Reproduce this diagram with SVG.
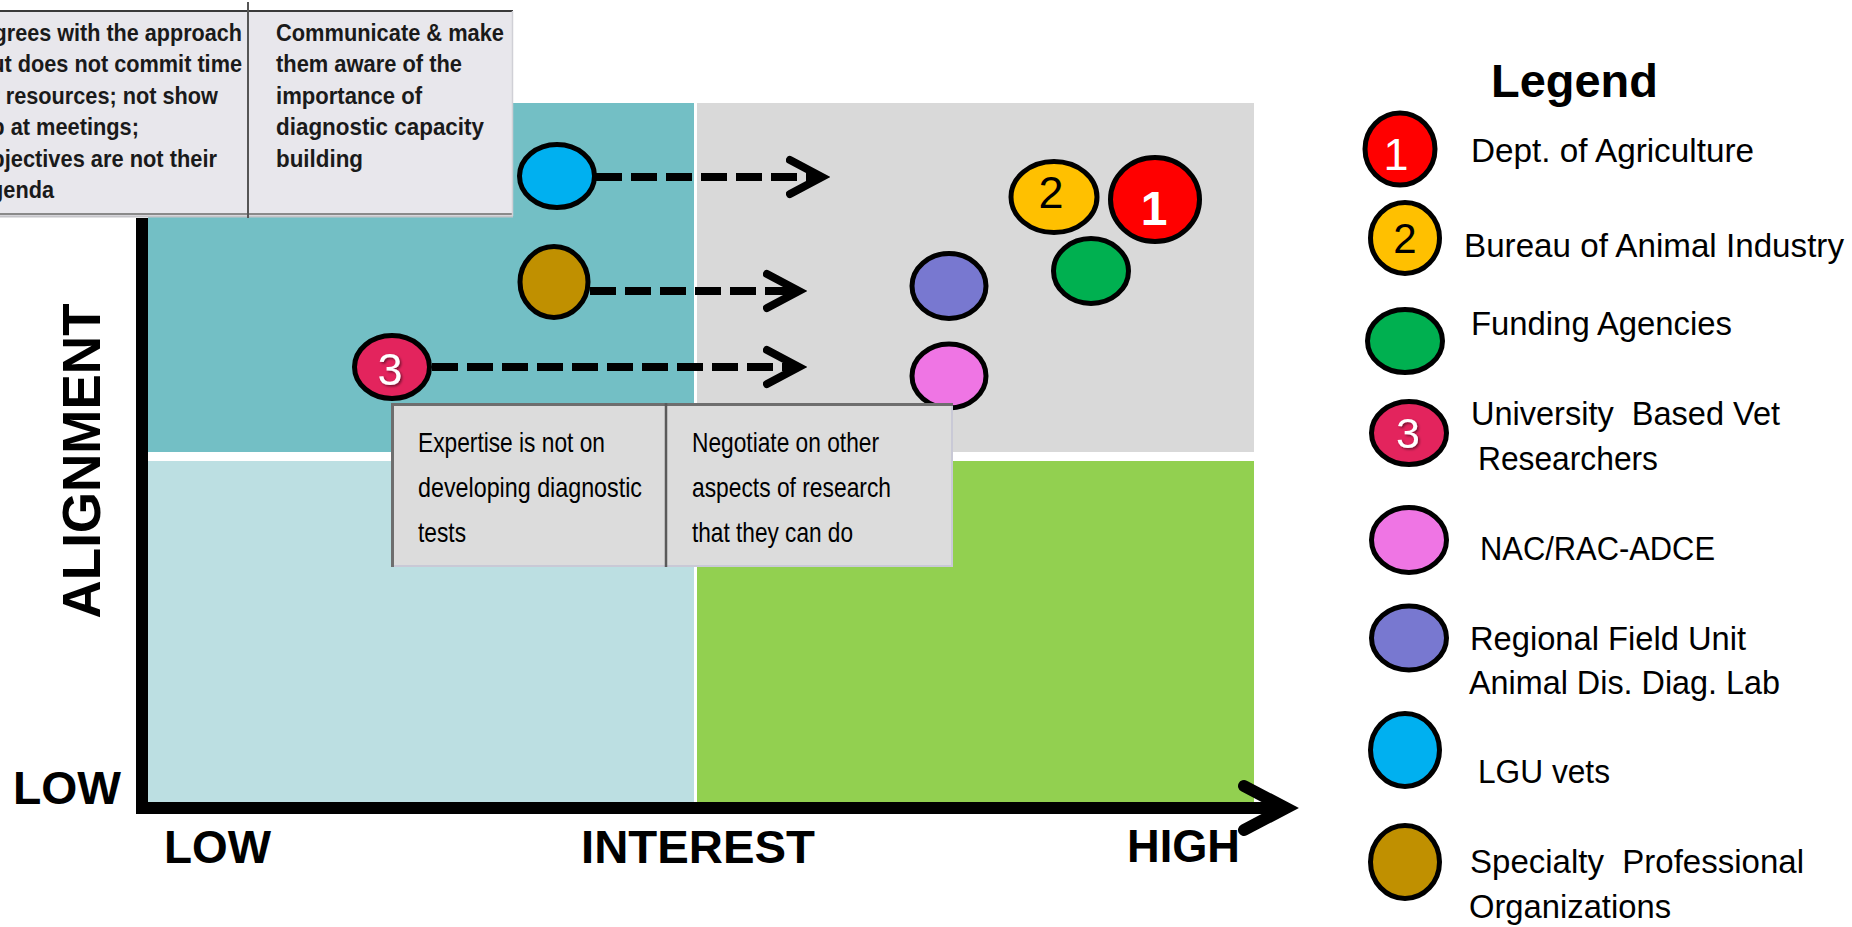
<svg xmlns="http://www.w3.org/2000/svg" width="1852" height="927" viewBox="0 0 1852 927">
<style>
.bold{font-family:"Liberation Sans",Arial,sans-serif;font-weight:bold;fill:#000}
.narrowb{font-family:"Liberation Sans Narrow","Liberation Sans",Arial,sans-serif;font-weight:bold;font-size:24px;fill:#1a1a1a}
.narrow{font-family:"Liberation Sans Narrow","Liberation Sans",Arial,sans-serif;font-size:28px;fill:#000}
.leg{font-family:"Liberation Sans Narrow","Liberation Sans",Arial,sans-serif;font-size:34px;fill:#000}
.num{font-family:"Liberation Sans",Arial,sans-serif;text-anchor:middle}
.node{stroke:#000;stroke-width:5}
.dash{fill:none;stroke:#000;stroke-width:8;stroke-dasharray:26 9}
</style>
<defs>
<marker id="chev" markerUnits="userSpaceOnUse" markerWidth="44" markerHeight="48" viewBox="0 0 44 48" refX="36" refY="24" orient="auto">
<path d="M4,7 L36,24 L4,41" fill="none" stroke="#000" stroke-width="8" stroke-linecap="round" stroke-linejoin="miter" stroke-dasharray="none"/>
</marker>
<filter id="sh" x="-30%" y="-30%" width="160%" height="160%">
<feDropShadow dx="1.5" dy="1.5" stdDeviation="1" flood-color="#000" flood-opacity="0.5"/>
</filter>
</defs>
<rect width="1852" height="927" fill="#fff"/>

<g id="quadrants">
<rect x="148" y="103" width="546" height="349" fill="#73BFC5"/>
<rect x="697" y="103" width="557" height="349" fill="#D9D9D9"/>
<rect x="148" y="461" width="546" height="342" fill="#BCDFE2"/>
<rect x="697" y="461" width="557" height="342" fill="#92D050"/>
</g>

<g id="axes">
<line x1="142" y1="218" x2="142" y2="814" stroke="#000" stroke-width="12"/>
<line x1="136" y1="808" x2="1284" y2="808" stroke="#000" stroke-width="12"/>
<path d="M1244,786 L1286,808 L1244,830" fill="none" stroke="#000" stroke-width="12" stroke-linecap="round" stroke-linejoin="miter"/>
<text class="bold" font-size="53" text-anchor="middle" transform="translate(100,461) rotate(-90)">ALIGNMENT</text>
<text class="bold" x="13" y="804" font-size="46" textLength="108" lengthAdjust="spacingAndGlyphs">LOW</text>
<text class="bold" x="164" y="863" font-size="46" textLength="107" lengthAdjust="spacingAndGlyphs">LOW</text>
<text class="bold" x="581" y="863" font-size="46" textLength="234" lengthAdjust="spacingAndGlyphs">INTEREST</text>
<text class="bold" x="1127" y="862" font-size="46" textLength="113" lengthAdjust="spacingAndGlyphs">HIGH</text>
</g>

<g id="connectors">
<line class="dash" x1="596" y1="177" x2="822" y2="177" marker-end="url(#chev)"/>
<line class="dash" x1="590" y1="291" x2="799" y2="291" marker-end="url(#chev)"/>
<line class="dash" x1="432" y1="367" x2="799" y2="367" marker-end="url(#chev)"/>
</g>

<g id="node-lgu-vets"><ellipse class="node" cx="557" cy="176" rx="37.5" ry="31.5" fill="#00B0F0"/></g>
<g id="node-specialty"><ellipse class="node" cx="554" cy="282" rx="34" ry="35.5" fill="#C09000"/></g>
<g id="node-university"><ellipse class="node" cx="392" cy="367" rx="37.5" ry="31.5" fill="#E3245D"/>
<text class="num" x="390" y="385" font-size="45" fill="#fff" filter="url(#sh)">3</text></g>
<g id="node-regional"><ellipse class="node" cx="949" cy="286" rx="37" ry="32.5" fill="#7878D0"/></g>
<g id="node-nac"><ellipse class="node" cx="949" cy="376" rx="37" ry="32" fill="#EF75E4"/></g>
<g id="node-bureau"><ellipse class="node" cx="1054" cy="197" rx="43" ry="35.5" fill="#FFC000"/>
<text class="num" x="1051" y="208" font-size="45" fill="#000">2</text></g>
<g id="node-agriculture"><ellipse class="node" cx="1155" cy="199.5" rx="44.5" ry="42" fill="#FF0000"/>
<text class="num" x="1154" y="225" font-size="48" font-weight="bold" fill="#fff">1</text></g>
<g id="node-funding"><ellipse class="node" cx="1091" cy="271" rx="37.5" ry="32.5" fill="#00B050"/></g>

<g id="table-top">
<rect x="-5" y="10" width="518" height="206" fill="#E8E7EC"/>
<line x1="-5" y1="11" x2="513" y2="11" stroke="#3A3A3A" stroke-width="2"/>
<line x1="-5" y1="214" x2="513" y2="214" stroke="#8A8A8A" stroke-width="2"/>
<line x1="-5" y1="216.5" x2="513" y2="216.5" stroke="#C4C4C8" stroke-width="2"/>
<line x1="512.5" y1="11" x2="512.5" y2="216" stroke="#D0D0D6" stroke-width="1.5"/>
<line x1="248" y1="2" x2="248" y2="218" stroke="#555" stroke-width="2"/>
<text class="narrowb" x="-22" y="41" textLength="264" lengthAdjust="spacingAndGlyphs">Agrees with the approach</text>
<text class="narrowb" x="-22" y="72" textLength="264" lengthAdjust="spacingAndGlyphs">but does not commit time</text>
<text class="narrowb" x="-22" y="104" textLength="240" lengthAdjust="spacingAndGlyphs">or resources; not show</text>
<text class="narrowb" x="-22" y="135" textLength="161" lengthAdjust="spacingAndGlyphs">up at meetings;</text>
<text class="narrowb" x="-22" y="167" textLength="239" lengthAdjust="spacingAndGlyphs">objectives are not their</text>
<text class="narrowb" x="-22" y="198" textLength="76" lengthAdjust="spacingAndGlyphs">agenda</text>
<text class="narrowb" x="276" y="41" textLength="228" lengthAdjust="spacingAndGlyphs">Communicate &amp; make</text>
<text class="narrowb" x="276" y="72" textLength="186" lengthAdjust="spacingAndGlyphs">them aware of the</text>
<text class="narrowb" x="276" y="104" textLength="146" lengthAdjust="spacingAndGlyphs">importance of</text>
<text class="narrowb" x="276" y="135" textLength="208" lengthAdjust="spacingAndGlyphs">diagnostic capacity</text>
<text class="narrowb" x="276" y="167" textLength="87" lengthAdjust="spacingAndGlyphs">building</text>
</g>

<g id="table-bottom">
<rect x="391" y="403" width="562" height="164" fill="#DCDCDC"/>
<line x1="952" y1="404" x2="952" y2="567" stroke="#C9C9D6" stroke-width="2"/>
<line x1="391" y1="566" x2="953" y2="566" stroke="#C9C9D6" stroke-width="2"/>
<line x1="391" y1="404.5" x2="953" y2="404.5" stroke="#6E6E6E" stroke-width="3"/>
<line x1="392.5" y1="403" x2="392.5" y2="567" stroke="#6E6E6E" stroke-width="3"/>
<line x1="666" y1="403" x2="666" y2="567" stroke="#5A5A5A" stroke-width="2.5"/>
<text class="narrow" x="418" y="452" textLength="187" lengthAdjust="spacingAndGlyphs">Expertise is not on</text>
<text class="narrow" x="418" y="497" textLength="224" lengthAdjust="spacingAndGlyphs">developing diagnostic</text>
<text class="narrow" x="418" y="542" textLength="48" lengthAdjust="spacingAndGlyphs">tests</text>
<text class="narrow" x="692" y="452" textLength="187" lengthAdjust="spacingAndGlyphs">Negotiate on other</text>
<text class="narrow" x="692" y="497" textLength="199" lengthAdjust="spacingAndGlyphs">aspects of research</text>
<text class="narrow" x="692" y="542" textLength="161" lengthAdjust="spacingAndGlyphs">that they can do</text>
</g>

<g id="legend">
<text class="bold" x="1491" y="97" font-size="47" textLength="167" lengthAdjust="spacingAndGlyphs">Legend</text>
<g id="legend-1"><ellipse class="node" cx="1400" cy="149" rx="35" ry="36" fill="#FF0000"/>
<text class="num" x="1396" y="170" font-size="45" fill="#fff">1</text>
<text class="leg" x="1471" y="162" textLength="283" lengthAdjust="spacingAndGlyphs">Dept. of Agriculture</text></g>
<g id="legend-2"><ellipse class="node" cx="1405" cy="238" rx="34.5" ry="35.5" fill="#FFC000"/>
<text class="num" x="1405" y="253" font-size="42" fill="#000">2</text>
<text class="leg" x="1464" y="257" textLength="380" lengthAdjust="spacingAndGlyphs">Bureau of Animal Industry</text></g>
<g id="legend-funding"><ellipse class="node" cx="1405" cy="341" rx="37.5" ry="31.5" fill="#00B050"/>
<text class="leg" x="1471" y="335" textLength="261" lengthAdjust="spacingAndGlyphs">Funding Agencies</text></g>
<g id="legend-3"><ellipse class="node" cx="1409" cy="433" rx="37.5" ry="31.5" fill="#E3245D"/>
<text class="num" x="1408" y="448" font-size="43" fill="#fff" filter="url(#sh)">3</text>
<text class="leg" x="1471" y="425" xml:space="preserve" textLength="309" lengthAdjust="spacingAndGlyphs">University  Based Vet</text>
<text class="leg" x="1478" y="470" textLength="180" lengthAdjust="spacingAndGlyphs">Researchers</text></g>
<g id="legend-nac"><ellipse class="node" cx="1409" cy="540" rx="37.5" ry="32.5" fill="#EF75E4"/>
<text class="leg" x="1480" y="560" textLength="235" lengthAdjust="spacingAndGlyphs">NAC/RAC-ADCE</text></g>
<g id="legend-regional"><ellipse class="node" cx="1409" cy="638" rx="37.5" ry="32" fill="#7878D0"/>
<text class="leg" x="1470" y="650" textLength="276" lengthAdjust="spacingAndGlyphs">Regional Field Unit</text>
<text class="leg" x="1469" y="694" textLength="311" lengthAdjust="spacingAndGlyphs">Animal Dis. Diag. Lab</text></g>
<g id="legend-lgu"><ellipse class="node" cx="1405" cy="750" rx="34.5" ry="36.5" fill="#00B0F0"/>
<text class="leg" x="1478" y="783" textLength="132" lengthAdjust="spacingAndGlyphs">LGU vets</text></g>
<g id="legend-specialty"><ellipse class="node" cx="1405" cy="862" rx="34.5" ry="36.5" fill="#C09000"/>
<text class="leg" x="1470" y="873" xml:space="preserve" textLength="334" lengthAdjust="spacingAndGlyphs">Specialty  Professional</text>
<text class="leg" x="1469" y="918" textLength="202" lengthAdjust="spacingAndGlyphs">Organizations</text></g>
</g>
</svg>
